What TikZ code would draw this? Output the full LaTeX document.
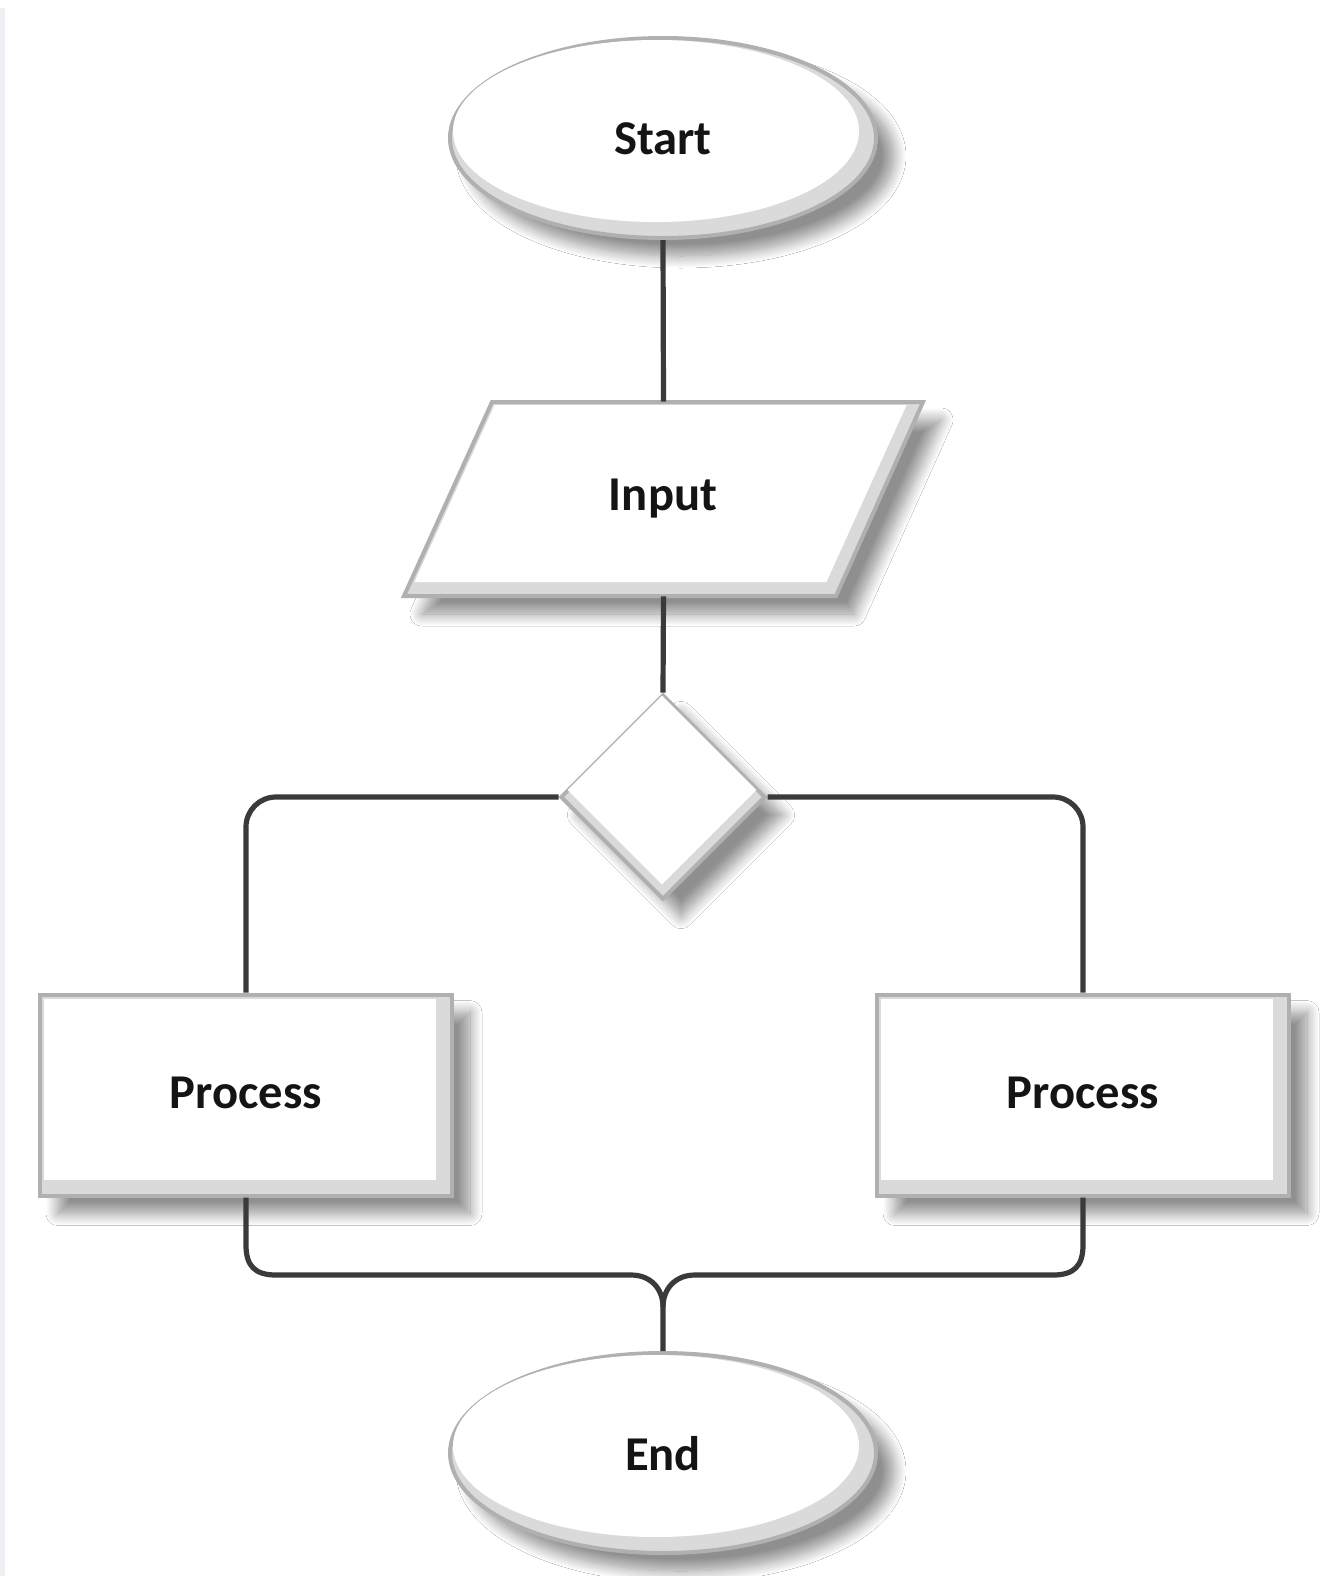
\documentclass[tikz,border=0pt]{standalone}
\usepackage{fontspec}
\setmainfont{Carlito}
\usetikzlibrary{shapes.geometric,shadows.blur}
\definecolor{rim}{RGB}{176,176,176}
\definecolor{bevel}{RGB}{218,218,218}
\definecolor{wirec}{RGB}{58,58,58}
\definecolor{strip}{RGB}{238,240,243}
\tikzset{
  shade/.style={blur shadow={shadow xshift=9pt, shadow yshift=-9pt,
                 shadow blur radius=6pt, shadow blur steps=14, shadow opacity=44}},
  box/.style={draw=rim, line width=2pt, fill=bevel, inner sep=0pt, shade},
  face/.style={fill=white, draw=none, inner sep=0pt},
  txt/.style={font=\fontsize{24.3}{29}\selectfont\bfseries, text=black!92, inner sep=0pt},
  wire/.style={draw=wirec, line width=2.6pt, rounded corners=15pt},
  merge/.style={draw=wirec, line width=2.6pt},
  term/.style={ellipse},
  choice/.style={diamond, shape aspect=1},
}
\begin{document}
\begin{tikzpicture}[x=0.5pt,y=-0.5pt]
  \useasboundingbox (0,0) rectangle (1330,1576);
  \fill[white] (0,0) rectangle (1330,1576);
  \fill[strip] (0,8) rectangle (5,1576);

  % terminal: start
  \node[box, term, minimum width=213pt, minimum height=100pt] (start) at (663,138) {};
  \node[face, term, minimum width=203pt, minimum height=91pt] (start-face) at (656,131) {};
  \node[txt] (start-text) at (663,139) {Start};

  % input / output: slanted box drawn as a path, node keeps the anchors
  \path[draw=rim, line width=2pt, fill=bevel, shade]
    (492,402) -- (923,402) -- (836,596) -- (404,596) -- cycle;
  \fill[white] (494.6,405) -- (906.6,405) -- (826.4,582) -- (414.4,582) -- cycle;
  \node[inner sep=0pt, minimum width=215.5pt, minimum height=97pt] (input) at (663.5,499) {};
  \node[txt] (input-text) at (663,499) {Input};

  % decision
  \node[box, choice, minimum width=102.5pt, minimum height=102.5pt] (dec) at (663,797) {};
  \node[face, choice, minimum width=94.5pt, minimum height=94.5pt] (dec-face) at (662,790) {};

  % processes
  \node[box, rectangle, minimum width=206pt, minimum height=100.5pt] (p1) at (246,1095) {};
  \node[face, rectangle, minimum width=196pt, minimum height=90.5pt] (p1-face) at (240,1089) {};
  \node[txt] (p1-text) at (246,1093) {Process};

  \node[box, rectangle, minimum width=206pt, minimum height=100.5pt] (p2) at (1083,1095) {};
  \node[face, rectangle, minimum width=196pt, minimum height=90.5pt] (p2-face) at (1077,1089) {};
  \node[txt] (p2-text) at (1083,1093) {Process};

  % terminal: end
  \node[box, term, minimum width=213pt, minimum height=100pt] (end) at (663,1453) {};
  \node[face, term, minimum width=203pt, minimum height=91pt] (end-face) at (656,1446) {};
  \node[txt] (end-text) at (663,1454) {End};

  % bends and join points of the merge
  \coordinate (bl) at (246,1245);
  \coordinate (br) at (1083,1245);
  \coordinate (hl) at (276,1275);
  \coordinate (hr) at (1053,1275);
  \coordinate (jl) at (631,1275);
  \coordinate (jr) at (695,1275);
  \coordinate (jm) at (663,1307);

  % connectors
  \draw[wire] (start.south) -- (input.north);
  \draw[wire] (input.south) -- (dec.north);
  \draw[wire] (dec.west) -| (p1.north);
  \draw[wire] (dec.east) -| (p2.north);
  \draw[merge] (p1.south) -- (bl) .. controls (246,1266) and (255,1275) .. (hl) -- (jl)
    .. controls (651,1275) and (663,1289) .. (jm) -- (end.north);
  \draw[merge] (p2.south) -- (br) .. controls (1083,1266) and (1074,1275) .. (hr) -- (jr)
    .. controls (675,1275) and (663,1289) .. (jm);
\end{tikzpicture}
\end{document}
